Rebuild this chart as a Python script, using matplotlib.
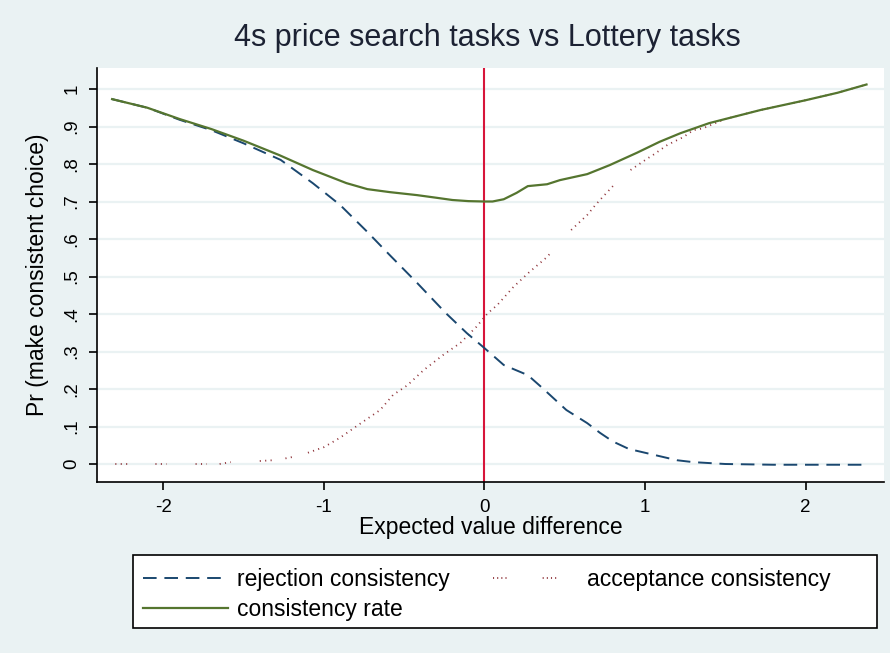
import numpy as np
import matplotlib.pyplot as plt
from matplotlib.lines import Line2D
from matplotlib.patches import Rectangle

# consistency rate (solid green)
rate_x = [-2.32, -2.1, -1.9, -1.7, -1.5, -1.28, -1.07, -0.86, -0.73, -0.59, -0.42,
          -0.3, -0.2, -0.1, 0.0, 0.05, 0.12, 0.2, 0.27, 0.39, 0.47, 0.64, 0.78,
          0.95, 1.09, 1.22, 1.40, 1.72, 2.0, 2.2, 2.38]
rate_y = [0.973, 0.95, 0.92, 0.893, 0.862, 0.824, 0.784, 0.749, 0.733, 0.725, 0.717,
          0.71, 0.704, 0.701, 0.700, 0.700, 0.706, 0.723, 0.741, 0.746, 0.757, 0.773, 0.797,
          0.83, 0.859, 0.882, 0.909, 0.944, 0.97, 0.99, 1.012]

# rejection consistency (navy dashed)
rej_x = [-2.32, -2.1, -1.9, -1.7, -1.5, -1.27, -1.07, -0.9, -0.73, -0.59, -0.42,
         -0.24, -0.11, 0.0, 0.12, 0.27, 0.36, 0.51, 0.64, 0.72, 0.8, 0.9, 1.0,
         1.1, 1.2, 1.3, 1.5, 1.8, 2.1, 2.38]
rej_y = [0.973, 0.95, 0.918, 0.89, 0.855, 0.811, 0.749, 0.691, 0.619, 0.557, 0.483,
         0.402, 0.349, 0.309, 0.264, 0.237, 0.203, 0.144, 0.109, 0.083, 0.06, 0.04, 0.03,
         0.02, 0.01, 0.005, 0.0, -0.002, -0.002, -0.002]

# acceptance consistency (maroon dots), gaps where there is no data
acc_x = [-2.30, -2.22, np.nan, -2.05, -1.98, np.nan, -1.80, -1.73, np.nan, -1.65, -1.58,
         np.nan, -1.40, -1.32, np.nan, -1.24, -1.18, np.nan,
         -1.1, -1.0, -0.9, -0.8, -0.65, -0.57, -0.48, -0.38, -0.26, -0.15, -0.05, 0.02,
         0.08, 0.18, 0.28, 0.39, 0.41, np.nan, 0.54, 0.64, 0.69, 0.73, 0.80, np.nan,
         0.91, 1.02, 1.05, 1.14, 1.24, 1.30, 1.36, 1.5, 1.72, 2.0, 2.2, 2.38]
acc_y = [0.0, 0.0, np.nan, 0.0, 0.0, np.nan, 0.0, 0.0, np.nan, 0.0, 0.005,
         np.nan, 0.008, 0.01, np.nan, 0.015, 0.02, np.nan,
         0.03, 0.045, 0.07, 0.10, 0.144, 0.184, 0.21, 0.25, 0.29, 0.323, 0.366, 0.402,
         0.424, 0.472, 0.512, 0.552, 0.562, np.nan, 0.624, 0.664, 0.69, 0.709, 0.741, np.nan,
         0.784, 0.816, 0.824, 0.851, 0.872, 0.89, 0.895, 0.92, 0.944, 0.97, 0.99, 1.012]

y_ticks = np.arange(0, 1.01, 0.1)
y_labels = ["0", ".1", ".2", ".3", ".4", ".5", ".6", ".7", ".8", ".9", "1"]
x_ticks = [-2, -1, 0, 1, 2]

BG = "#eaf2f3"
NAVY = "#1a476f"
MAROON = "#90353b"
GREEN = "#55752f"

plt.rcParams["font.family"] = ["Liberation Sans", "DejaVu Sans"]

fig = plt.figure(figsize=(8.9, 6.53), dpi=100, facecolor=BG)
ax = fig.add_axes([97 / 890, 1 - 482 / 653, 787 / 890, 414 / 653])
ax.set_facecolor("white")

for yv in y_ticks:
    ax.axhline(yv, color=BG, lw=1.6, zorder=0)

ax.axvline(0, color="#d7153a", lw=1.5, zorder=1)

ACC_STYLE = (0, (0.6, 2.4))
ax.plot(acc_x, acc_y, color=MAROON, lw=1.3, linestyle=ACC_STYLE, zorder=2)
ax.plot(rej_x, rej_y, color=NAVY, lw=1.4, linestyle=(0, (7, 4)), zorder=3)
ax.plot(rate_x, rate_y, color=GREEN, lw=1.6, zorder=4)

ax.set_xlim(-2.414, 2.489)
ax.set_ylim(-0.048, 1.056)

ax.spines["top"].set_visible(False)
ax.spines["right"].set_visible(False)
ax.spines["left"].set_linewidth(1.2)
ax.spines["bottom"].set_linewidth(1.2)

ax.set_xticks(x_ticks)
ax.set_xticklabels([str(v) for v in x_ticks])
ax.set_yticks(y_ticks)
ax.set_yticklabels(y_labels, rotation=90, va="center")
ax.tick_params(direction="out", length=6, width=1.2, labelsize=13.5, pad=6)

ax.set_xlabel("Expected value difference", fontsize=16.5, labelpad=0)
ax.set_ylabel("Pr (make consistent choice)", fontsize=16.5, labelpad=10)

fig.text(487 / 890, 1 - 38 / 653, "4s price search tasks vs Lottery tasks",
         fontsize=22, color="#1c2233", ha="center", va="center")

# legend: frame drawn separately so its padding can match the reference
fig.patches.append(Rectangle((133 / 890, 1 - 628 / 653), 744 / 890, 73 / 653,
                             transform=fig.transFigure, facecolor="white",
                             edgecolor="black", lw=1.2, zorder=0))
h_rej = Line2D([], [], color=NAVY, lw=1.4, linestyle=(0, (7, 4)))
h_rate = Line2D([], [], color=GREEN, lw=1.6)
h_acc = Line2D([], [], color=MAROON, lw=1.3,
               linestyle=(0, (0.6, 1.7, 0.6, 1.7, 0.6, 1.7, 0.6, 20)))
fig.legend(handles=[h_rej, h_rate, h_acc],
           labels=["rejection consistency", "consistency rate", "acceptance consistency"],
           ncol=2, loc="upper left", bbox_to_anchor=(143 / 890, 1 - 568 / 653),
           fontsize=16.5, handlelength=3.7, handletextpad=0.4, columnspacing=1.9,
           frameon=False, borderpad=0, borderaxespad=0, labelspacing=0.3)

fig.savefig("out.png", dpi=100, facecolor=BG)
